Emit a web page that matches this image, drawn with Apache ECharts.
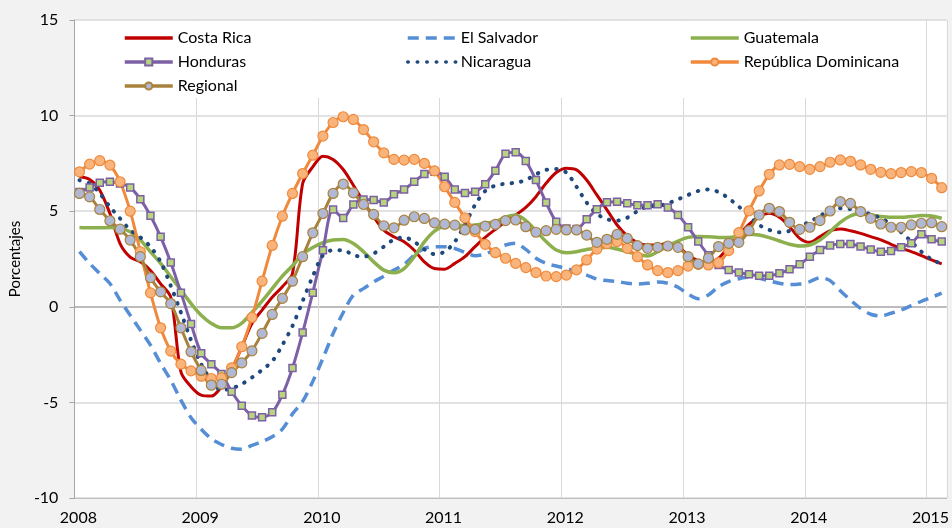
<!DOCTYPE html>
<html>
<head>
<meta charset="utf-8">
<script src="https://cdn.jsdelivr.net/npm/echarts@6/dist/echarts.min.js"></script>
<style>
  html, body { margin: 0; padding: 0; background: #f2f2f2; }
  #chart { width: 952px; height: 528px; }
</style>
</head>
<body>
<div id="chart"></div>
<script>
// monthly values, Jan 2008 .. Feb 2015
var years = ['2008', '2009', '2010', '2011', '2012', '2013', '2014', '2015'];

var costaRica = [6.8, 6.66, 6.1, 4.88, 3.31, 2.6, 2.35, 1.9, 1.2, 0.5,
    -3.4, -4.18, -4.62, -4.67, -4.18, -3.3, -2.1, -0.87, -0.17, 0.5,
    1.05, 1.74, 6.45, 7.32, 7.88, 7.71, 7.18, 6.36, 5.49, 4.71,
    4.01, 3.66, 3.4, 2.96, 2.35, 2.0, 1.97, 2.27, 2.62, 3.15,
    3.63, 4.05, 4.45, 4.8, 5.2, 5.76, 6.46, 7.02, 7.25, 7.16,
    6.63, 5.85, 5.07, 4.28, 3.71, 3.36, 3.23, 3.23, 3.32, 3.15,
    2.71, 2.4, 2.28, 2.54, 3.15, 3.76, 4.31, 4.71, 4.89, 4.68,
    4.19, 3.58, 3.37, 3.67, 3.98, 4.07, 3.98, 3.84, 3.67, 3.5,
    3.27, 3.06, 2.89, 2.68, 2.45, 2.24];

var elSalvador = [2.88, 2.27, 1.74, 1.22, 0.35, -0.44, -1.22, -2.0, -2.96, -3.84,
    -4.88, -5.8, -6.4, -6.9, -7.2, -7.4, -7.45, -7.25, -7.05, -6.8,
    -6.4, -5.6, -4.95, -3.9, -2.7, -1.4, -0.3, 0.62, 0.95, 1.3,
    1.6, 1.92, 2.21, 2.7, 3.05, 3.14, 3.14, 3.05, 2.85, 2.67,
    2.76, 3.0, 3.23, 3.32, 3.0, 2.54, 2.27, 2.13, 2.01, 1.84,
    1.66, 1.45, 1.37, 1.32, 1.23, 1.19, 1.23, 1.3, 1.23, 1.02,
    0.67, 0.42, 0.62, 1.05, 1.32, 1.47, 1.56, 1.49, 1.35, 1.23,
    1.16, 1.19, 1.32, 1.52, 1.37, 0.84, 0.36, -0.08, -0.39, -0.48,
    -0.34, -0.17, 0.06, 0.29, 0.5, 0.71];

var guatemala = [4.15, 4.13, 4.13, 4.15, 4.1, 3.92, 3.49, 2.88, 2.27, 1.57,
    0.87, 0.17, -0.44, -0.87, -1.1, -1.1, -0.85, -0.3, 0.3, 0.95,
    1.6, 2.15, 2.75, 3.1, 3.35, 3.49, 3.52, 3.31, 2.88, 2.35,
    1.92, 1.78, 2.0, 2.62, 3.4, 3.96, 4.22, 4.27, 4.25, 4.28,
    4.37, 4.45, 4.68, 4.8, 4.51, 3.98, 3.41, 2.97, 2.83, 2.88,
    3.0, 3.06, 3.11, 3.02, 2.88, 2.74, 2.66, 2.88, 3.18, 3.44,
    3.63, 3.68, 3.67, 3.63, 3.63, 3.7, 3.8, 3.75, 3.62, 3.44,
    3.27, 3.18, 3.23, 3.49, 3.93, 4.42, 4.75, 4.89, 4.8, 4.72,
    4.68, 4.68, 4.72, 4.77, 4.75, 4.63];

var honduras = [6.01, 6.24, 6.49, 6.54, 6.45, 6.24, 5.63, 4.76, 3.66, 2.32,
    0.74, -0.9, -2.43, -3.0, -3.51, -4.44, -5.17, -5.69, -5.78, -5.52,
    -4.6, -3.2, -1.35, 0.74, 2.96, 5.09, 4.65, 5.35, 5.61, 5.58,
    5.46, 5.88, 6.14, 6.54, 6.94, 7.06, 6.8, 6.14, 5.95, 6.02,
    6.41, 7.12, 8.0, 8.08, 7.62, 6.63, 5.45, 4.45, 4.1, 4.07,
    4.58, 5.1, 5.47, 5.5, 5.41, 5.31, 5.31, 5.36, 5.2, 4.8,
    4.16, 3.41, 2.7, 2.19, 1.93, 1.79, 1.7, 1.63, 1.63, 1.75,
    1.96, 2.22, 2.62, 2.97, 3.2, 3.28, 3.28, 3.15, 3.0, 2.88,
    2.92, 3.11, 3.32, 3.79, 3.53, 3.41];

var nicaragua = [6.62, 6.45, 5.93, 5.23, 4.62, 4.01, 3.63, 3.14, 2.35, 1.1,
    -0.3, -1.75, -3.0, -3.85, -4.36, -4.27, -4.04, -3.7, -3.3, -2.85,
    -2.0, -1.0, 0.3, 1.6, 2.7, 2.96, 2.96, 2.7, 2.62, 2.79,
    3.14, 3.52, 3.63, 3.4, 3.0, 2.75, 2.88, 3.4, 4.3, 5.33,
    6.06, 6.34, 6.44, 6.49, 6.63, 6.93, 7.16, 7.21, 7.02, 6.28,
    5.45, 4.86, 4.58, 4.51, 4.66, 5.0, 5.24, 5.27, 5.41, 5.62,
    5.85, 6.06, 6.14, 6.0, 5.67, 5.24, 4.75, 4.28, 4.02, 3.9,
    3.97, 4.22, 4.45, 4.75, 5.06, 5.15, 5.11, 4.99, 4.84, 4.63,
    4.33, 3.9, 3.41, 2.88, 2.48, 2.24];

var repDominicana = [7.06, 7.46, 7.64, 7.41, 6.54, 5.0, 2.88, 0.73, -1.1, -2.32,
    -3.0, -3.35, -3.63, -3.75, -3.72, -3.19, -2.09, -0.56, 1.34, 3.21,
    4.74, 5.93, 6.97, 7.93, 8.93, 9.64, 9.94, 9.8, 9.27, 8.63,
    8.05, 7.71, 7.67, 7.71, 7.5, 7.11, 6.28, 5.46, 4.65, 3.93,
    3.27, 2.83, 2.54, 2.27, 2.05, 1.79, 1.61, 1.58, 1.66, 1.93,
    2.45, 3.02, 3.3, 3.41, 3.06, 2.62, 2.19, 1.89, 1.79, 1.89,
    2.13, 2.22, 2.19, 2.31, 2.94, 3.88, 5.02, 6.06, 6.93, 7.42,
    7.45, 7.33, 7.19, 7.33, 7.56, 7.68, 7.61, 7.42, 7.19, 7.03,
    6.96, 7.02, 7.07, 7.02, 6.72, 6.23];

var regional = [5.93, 5.75, 5.09, 4.5, 4.06, 3.49, 2.62, 1.52, 0.78, 0.17,
    -1.1, -2.35, -3.33, -4.1, -4.05, -3.44, -2.93, -2.3, -1.39, -0.4,
    0.44, 1.34, 2.62, 3.87, 4.88, 5.93, 6.42, 5.96, 5.35, 4.83,
    4.24, 4.13, 4.53, 4.71, 4.62, 4.39, 4.32, 4.27, 4.02, 4.05,
    4.22, 4.31, 4.51, 4.54, 4.19, 3.9, 3.98, 4.05, 4.02, 4.02,
    3.75, 3.37, 3.53, 3.79, 3.58, 3.2, 3.06, 3.11, 3.18, 3.11,
    2.62, 2.25, 2.54, 3.15, 3.32, 3.37, 3.98, 4.8, 5.15, 4.98,
    4.42, 4.05, 4.16, 4.51, 5.01, 5.5, 5.41, 4.98, 4.63, 4.33,
    4.16, 4.16, 4.28, 4.37, 4.4, 4.19];

var yTicks = [-10, -5, 0, 5, 10, 15];

// each value sits in the middle of its month
function monthly(arr) {
    return arr.map(function (v, i) { return [i + 0.5, v]; });
}

var font = 'Lato, "Open Sans", sans-serif';

// lineOnly: hide the marker ECharts puts on a line legend icon
function legendAt(name, left, top, lineOnly) {
    var l = {
        data: [name],
        left: left,
        top: top,
        padding: 0,
        itemWidth: 48,
        itemHeight: 9,
        itemGap: 4,
        lineStyle: { width: 3.5 },
        textStyle: { fontFamily: font, fontSize: 16, color: '#000' },
        selectedMode: false
    };
    if (lineOnly) {
        l.itemStyle = { color: 'rgba(0,0,0,0)', borderWidth: 0, opacity: 0 };
    }
    return l;
}

var option = {
    backgroundColor: '#f2f2f2',
    animation: false,
    grid: {
        left: 72, top: 20, right: 4, bottom: 30,
        show: true, backgroundColor: '#fff', borderWidth: 0
    },
    graphic: [{
        type: 'rect', z: 1,
        shape: { x: 104, y: 21, width: 812, height: 77 },
        style: { fill: '#fff' }
    }],
    legend: [
        legendAt('Costa Rica', 123, 30, true),
        legendAt('Honduras', 123, 54),
        legendAt('Regional', 123, 78),
        legendAt('El Salvador', 406, 30, true),
        legendAt('Nicaragua', 406, 54, true),
        legendAt('Guatemala', 689, 30, true),
        legendAt('República Dominicana', 689, 54)
    ],
    xAxis: {
        type: 'value',
        min: 0, max: 86, interval: 12,
        axisLine: { onZero: false, lineStyle: { color: '#bfbfbf' } },
        axisTick: { show: false },
        splitLine: { show: true, lineStyle: { color: '#d9d9d9', width: 1 } },
        axisLabel: {
            fontFamily: font, fontSize: 16, color: '#000', margin: 12,
            padding: [0, 0, 0, 8],
            showMaxLabel: false,
            formatter: function (v) { return v % 12 === 0 ? years[v / 12] : ''; }
        }
    },
    yAxis: {
        type: 'value',
        min: yTicks[0], max: yTicks[yTicks.length - 1], interval: 5,
        name: 'Porcentajes',
        nameLocation: 'middle',
        nameGap: 47,
        nameTextStyle: { fontFamily: font, fontSize: 15, color: '#000' },
        axisLine: { show: true, lineStyle: { color: '#a6a6a6' } },
        axisTick: { show: true, inside: false, length: 5, lineStyle: { color: '#a6a6a6' } },
        splitLine: {
            show: true,
            lineStyle: { color: ['#d9d9d9', '#d9d9d9', '#a6a6a6', '#d9d9d9', '#d9d9d9', '#d9d9d9'], width: 1.5 }
        },
        axisLabel: { fontFamily: font, fontSize: 16, color: '#000', margin: 16 }
    },
    series: [
        {
            name: 'Costa Rica', type: 'line', smooth: 0.3, symbol: 'none',
            lineStyle: { color: '#c00000', width: 3 },
            itemStyle: { color: '#c00000' },
            data: monthly(costaRica)
        },
        {
            name: 'El Salvador', type: 'line', smooth: 0.3, symbol: 'none',
            lineStyle: { color: '#558ed5', width: 3.5, type: [11, 7] },
            itemStyle: { color: '#558ed5' },
            data: monthly(elSalvador)
        },
        {
            name: 'Guatemala', type: 'line', smooth: 0.3, symbol: 'none',
            lineStyle: { color: '#8db04e', width: 3.5 },
            itemStyle: { color: '#8db04e' },
            data: monthly(guatemala)
        },
        {
            name: 'Honduras', type: 'line', smooth: 0.3,
            symbol: 'rect', symbolSize: 7,
            lineStyle: { color: '#7c60a6', width: 3 },
            itemStyle: { color: '#b8d47c', borderColor: '#7c60a6', borderWidth: 1.5 },
            data: monthly(honduras)
        },
        {
            name: 'Nicaragua', type: 'line', smooth: 0.3, symbol: 'none',
            lineStyle: { color: '#1f497d', width: 4, type: [0.5, 9], cap: 'round' },
            itemStyle: { color: '#1f497d' },
            data: monthly(nicaragua)
        },
        {
            name: 'República Dominicana', type: 'line', smooth: 0.3,
            symbol: 'circle', symbolSize: 10,
            lineStyle: { color: '#f0893b', width: 3 },
            itemStyle: { color: '#f9b47c', borderColor: '#f0893b', borderWidth: 1.2 },
            data: monthly(repDominicana)
        },
        {
            name: 'Regional', type: 'line', smooth: 0.3,
            symbol: 'circle', symbolSize: 10,
            lineStyle: { color: '#a8823c', width: 3 },
            itemStyle: { color: '#b1b8d4', borderColor: '#a8823c', borderWidth: 1.2 },
            data: monthly(regional)
        }
    ]
};

var myChart = echarts.init(document.getElementById('chart'));
myChart.setOption(option);
</script>
</body>
</html>
